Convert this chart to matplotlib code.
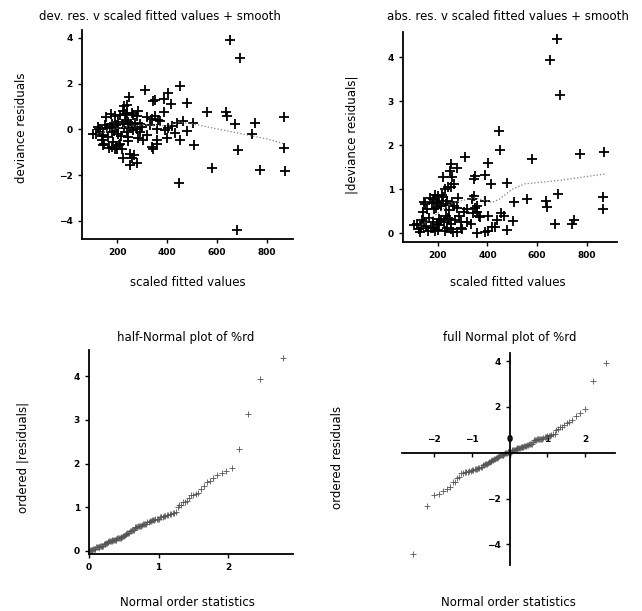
import matplotlib
matplotlib.use("Agg")
import matplotlib.pyplot as plt
import numpy as np
from statistics import NormalDist

# scaled fitted values and deviance residuals
fitted = [504, 506, 558, 581, 637, 641, 652, 673, 680, 684, 692, 740, 750, 772, 866, 866, 870,
          447, 451, 402, 389, 416, 478, 389, 401, 453, 478, 404, 420, 390, 440, 465, 370, 430,
          310, 345, 319, 352, 365, 332, 359, 319, 305, 359, 339, 345, 359, 292, 292, 340,
          249, 229, 239, 156, 192, 212, 265, 279, 179, 205, 225, 245, 125, 152, 252, 279,
          105, 132, 145, 179, 205, 239, 139, 185, 212, 245, 145, 179, 199, 219, 252, 223,
          259, 252, 279,
          115, 128, 138, 160, 165, 172, 188, 195, 200, 215, 228, 235, 242, 255, 262, 270,
          285, 298, 148, 175, 196, 206, 232, 258, 168, 190, 222, 283, 352, 266, 240]
resid = [0.27, -0.70, 0.77, -1.68, 0.74, 0.60, 3.93, 0.22, -4.42, -0.89, 3.14, -0.22, 0.30,
         -1.79, 0.56, -0.82, -1.84,
         -2.33, 1.90, 1.60, 1.33, 1.12, 1.14, 0.74, -0.40, -0.46, -0.08, 0.05, 0.15, -0.02,
         0.30, 0.38, 0.36, -0.15,
         1.73, 1.22, 0.54, 0.58, 0.39, 0.20, 0.00, -0.26, -0.48, -0.48, -0.77, -0.85, -0.62,
         0.25, -0.12, 0.45,
         1.41, 1.01, 0.72, 0.54, 0.58, 0.61, 0.61, 0.58, 0.25, 0.32, 0.25, 0.32, 0.10, 0.17,
         0.10, 0.03,
         -0.19, -0.12, -0.26, -0.12, -0.19, -0.12, -0.48, -0.55, -0.62, -0.52, -0.70, -0.77,
         -0.84, -0.87, -1.06, -1.27, -1.27, -1.57, -1.49,
         -0.22, 0.02, -0.30, 0.05, -0.35, 0.12, -0.05, 0.20, 0.08, -0.30, 0.05, 0.40, -0.35,
         0.22, -0.02, 0.30, -0.40, 0.10, -0.66, 0.68, -0.72, -0.68, 0.66, 0.70, -0.80, -0.86,
         0.82, 0.80, 1.30, -1.12, 1.05]

# smooths (dotted lines)
smooth_x = [120, 200, 300, 400, 450, 500, 600, 700, 800, 865]
smooth_y = [-0.2, 0.05, 0.2, 0.15, 0.32, 0.25, 0.02, -0.2, -0.42, -0.62]
abs_smooth_x = [125, 200, 260, 350, 420, 450, 500, 550, 690, 880]
abs_smooth_y = [0.15, 0.45, 0.7, 0.8, 0.7, 0.78, 1.0, 1.12, 1.2, 1.35]

fitted = np.array(fitted)
resid = np.array(resid)
n = len(resid)
nd = NormalDist()
i = np.arange(1, n + 1)
full_scores = np.array([nd.inv_cdf((k - 3 / 8) / (n + 1 / 4)) for k in i])
half_scores = np.array([nd.inv_cdf((k + n - 1 / 8) / (2 * n + 1 / 2)) for k in i])

plt.rcParams['font.weight'] = 'bold'  # tick labels are bold in the original

W, H = 642, 611
fig = plt.figure(figsize=(6.42, 6.11), dpi=100)
fs = 8.5


def box(l, t, r, b):
    return [l / W, 1 - b / H, (r - l) / W, (b - t) / H]


def lshape(ax):
    ax.spines['top'].set_visible(False)
    ax.spines['right'].set_visible(False)
    for s in ['left', 'bottom']:
        ax.spines[s].set_linewidth(1.3)
    ax.tick_params(labelsize=6.5, length=3, width=1)


def label(x, y, s, rot=0):
    fig.text(x / W, 1 - y / H, s, ha='center', va='center', rotation=rot,
             fontsize=fs, fontweight='normal')


# panel 1
ax1 = fig.add_axes(box(82, 30, 293, 239))
ax1.plot(fitted, resid, '+', color='black', ms=7, mew=1.3)
ax1.plot(smooth_x, smooth_y, ':', color='gray', lw=0.9)
ax1.set_xlim(59, 904)
ax1.set_ylim(-4.8, 4.35)
ax1.set_xticks([200, 400, 600, 800])
ax1.set_yticks([-4, -2, 0, 2, 4])
lshape(ax1)
label(160, 17, "dev. res. v scaled fitted values + smooth")
label(188, 283, "scaled fitted values")
label(22, 128, "deviance residuals", 90)

# panel 2
ax2 = fig.add_axes(box(403, 32, 617, 242))
ax2.plot(fitted, np.abs(resid), '+', color='black', ms=7, mew=1.3)
ax2.plot(abs_smooth_x, abs_smooth_y, ':', color='gray', lw=0.9)
ax2.set_xlim(60, 922)
ax2.set_ylim(-0.2, 4.57)
ax2.set_xticks([200, 400, 600, 800])
ax2.set_yticks([0, 1, 2, 3, 4])
lshape(ax2)
label(508, 17, "abs. res. v scaled fitted values + smooth")
label(508, 283, "scaled fitted values")
label(352, 135, "|deviance residuals|", 90)

# panel 3: half-normal
ax3 = fig.add_axes(box(89, 350, 293, 554))
ax3.plot(half_scores, np.sort(np.abs(resid)), '+', color='#555555', ms=5, mew=0.6)
ax3.set_xlim(0, 2.93)
ax3.set_ylim(-0.07, 4.6)
ax3.set_xticks([0, 1, 2])
ax3.set_yticks([0, 1, 2, 3, 4])
lshape(ax3)
label(186, 337, "half-Normal plot of %rd")
label(187, 602, "Normal order statistics")
label(23, 457, "ordered |residuals|", 90)

# panel 4: full normal
ax4 = fig.add_axes(box(402, 353, 615, 565))
ax4.plot(full_scores, np.sort(resid), '+', color='#555555', ms=5, mew=0.6)
ax4.set_xlim(-2.85, 2.79)
ax4.set_ylim(-4.9, 4.35)
ax4.spines['left'].set_position(('data', 0))
ax4.spines['bottom'].set_position(('data', 0))
ax4.set_xticks([-2, -1, 0, 1, 2])
ax4.set_yticks([-4, -2, 2, 4])
lshape(ax4)
ax4.tick_params(axis='x', pad=-16)
label(510, 337, "full Normal plot of %rd")
label(508, 602, "Normal order statistics")
label(338, 457, "ordered residuals", 90)

fig.savefig("out.png", dpi=100)
